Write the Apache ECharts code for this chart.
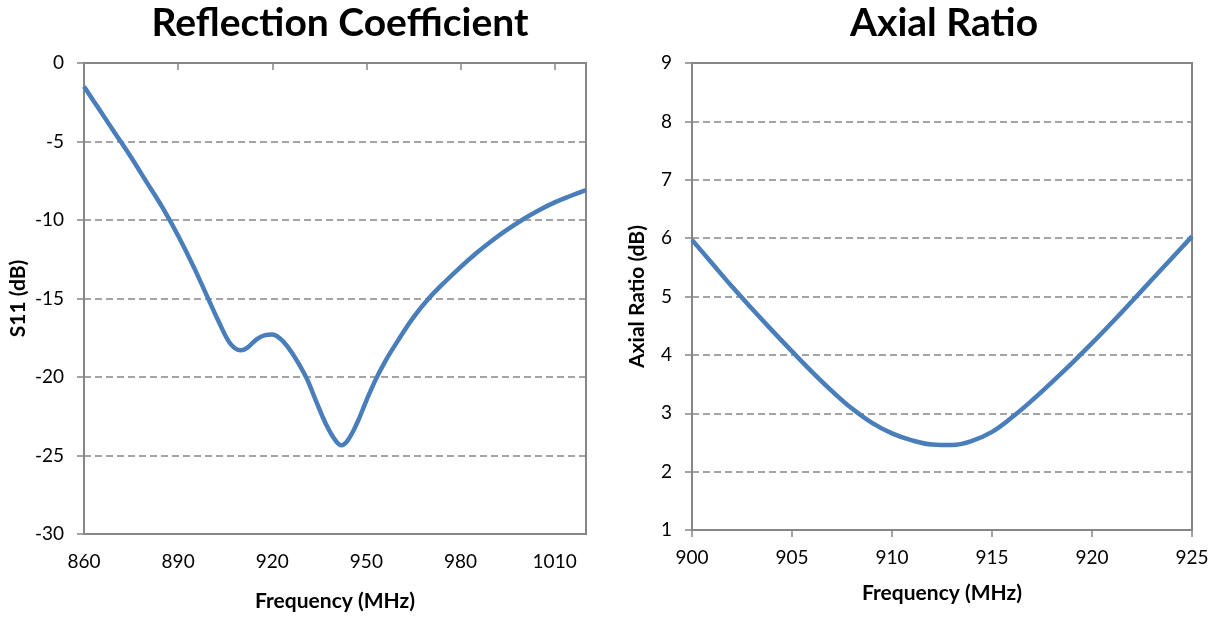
<!DOCTYPE html>
<html>
<head>
<meta charset="utf-8">
<script src="https://cdn.jsdelivr.net/npm/echarts@6/dist/echarts.min.js"></script>
<style>
html,body{margin:0;padding:0;background:#fff;}
#c{width:1223px;height:617px;}
</style>
</head>
<body>
<div id="c"></div>
<script>
const s11Freq = [860,865,870,875,880,885,890,895,900,903,906,908,910,912,915,917.5,920,922.5,925,928,931,934,937,940,942,944,947,950,953,956,960,965,970,975,980,985,990,995,1000,1005,1010,1015,1020];
const s11Values = [-1.5,-3.0,-4.5,-6.0,-7.6,-9.2,-11.0,-13.0,-15.2,-16.5,-17.7,-18.15,-18.3,-18.15,-17.6,-17.35,-17.3,-17.55,-18.1,-19.0,-20.1,-21.55,-22.95,-24.0,-24.35,-24.05,-22.95,-21.5,-20.15,-19.0,-17.7,-16.2,-14.97,-13.95,-13.0,-12.12,-11.32,-10.6,-9.95,-9.38,-8.88,-8.47,-8.1];
const s11XTicks = [860,890,920,950,980,1010];

const arFreq = [900,901,902,903,904,905,906,907,908,909,910,911,912,913,914,915,916,917,918,919,920,921,922,923,924,925];
const arValues = [5.97,5.57,5.17,4.79,4.42,4.06,3.71,3.38,3.08,2.835,2.655,2.535,2.465,2.455,2.525,2.68,2.93,3.22,3.535,3.86,4.2,4.555,4.92,5.29,5.66,6.03];

const grey = '#868686';
const blue = '#4a7ebb';
const font = 'Lato';

function pairs(xs, ys){ return xs.map((x,i)=>[x, ys[i]]); }

const axisCommon = {
  axisLine:{show:true, lineStyle:{color:grey, width:2}},
  axisTick:{show:true, length:7, lineStyle:{color:grey, width:1.5}},
  axisLabel:{color:'#000', fontFamily:font, fontSize:19, formatter:function(v){return String(v);}},
  nameTextStyle:{color:'#000', fontFamily:font, fontSize:21, fontWeight:'bold'}
};

const chart = echarts.init(document.getElementById('c'), null, {renderer:'canvas'});
chart.setOption({
  animation:false,
  backgroundColor:'#fff',
  title:[
    {text:'Reflection Coefficient', left:335, top:-1, textAlign:'center',
     textStyle:{fontFamily:font, fontSize:39, fontWeight:'bold', color:'#000'}},
    {text:'Axial Ratio', left:939, top:-1, textAlign:'center',
     textStyle:{fontFamily:font, fontSize:39, fontWeight:'bold', color:'#000'}}
  ],
  grid:[
    {left:84, top:63, width:502, height:471, show:true, borderColor:grey, borderWidth:2, containLabel:false},
    {left:692, top:63, width:500, height:467, show:true, borderColor:grey, borderWidth:2, containLabel:false}
  ],
  xAxis:[
    Object.assign({}, axisCommon, {
      type:'value', gridIndex:0, min:860, max:1020,
      name:'Frequency (MHz)', nameLocation:'middle', nameGap:57,
      splitLine:{show:false},
      axisTick:Object.assign({}, axisCommon.axisTick, {customValues:s11XTicks}),
      axisLabel:Object.assign({}, axisCommon.axisLabel, {customValues:s11XTicks, margin:18})
    }),
    Object.assign({}, axisCommon, {
      type:'value', gridIndex:1, min:900, max:925, interval:5,
      name:'Frequency (MHz)', nameLocation:'middle', nameGap:53,
      splitLine:{show:false},
      axisLabel:Object.assign({}, axisCommon.axisLabel, {margin:18})
    })
  ],
  yAxis:[
    Object.assign({}, axisCommon, {
      type:'value', gridIndex:0, min:-30, max:0, interval:5,
      name:'S11 (dB)', nameLocation:'middle', nameGap:55,
      splitLine:{show:true, lineStyle:{color:grey, width:1.5, type:[7,4]}},
      axisLabel:Object.assign({}, axisCommon.axisLabel, {margin:20})
    }),
    Object.assign({}, axisCommon, {
      type:'value', gridIndex:1, min:1, max:9, interval:1,
      name:'Axial Ratio (dB)', nameLocation:'middle', nameGap:44,
      splitLine:{show:true, lineStyle:{color:grey, width:1.5, type:[7,4]}},
      axisLabel:Object.assign({}, axisCommon.axisLabel, {margin:20})
    })
  ],
  series:[
    {type:'line', xAxisIndex:0, yAxisIndex:0, data:pairs(s11Freq, s11Values),
     smooth:0.4, showSymbol:false, lineStyle:{color:blue, width:4.5}, z:5},
    {type:'line', xAxisIndex:1, yAxisIndex:1, data:pairs(arFreq, arValues),
     smooth:0.4, showSymbol:false, lineStyle:{color:blue, width:4.5}, z:5}
  ]
});
</script>
</body>
</html>
